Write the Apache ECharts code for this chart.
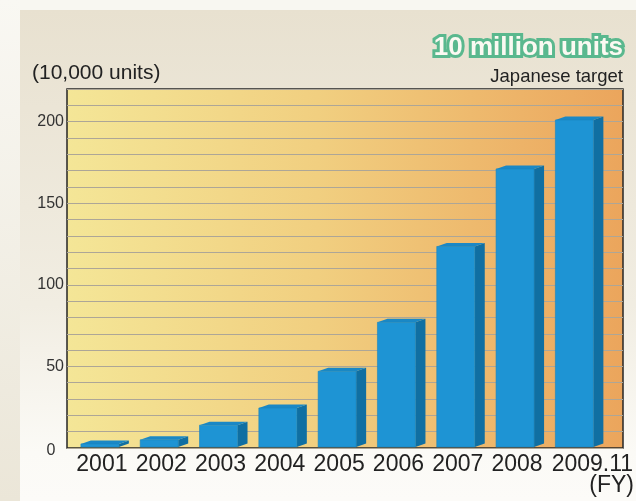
<!DOCTYPE html>
<html>
<head>
<meta charset="utf-8">
<script src="https://cdn.jsdelivr.net/npm/echarts@6/dist/echarts.min.js"></script>
<style>
  html, body { margin: 0; padding: 0; background: #f8f7f1; }
  #chart { width: 636px; height: 501px; }
</style>
</head>
<body>
<div id="chart"></div>
<script>
// fiscal years and units (10,000 units)
const categories = ['2001', '2002', '2003', '2004', '2005', '2006', '2007', '2008', '2009.11']
const unitValues = [2.5, 5, 14, 24.5, 47, 77, 123.5, 171, 201]
const yTickLabels = [0, 50, 100, 150, 200]

const font = 'Liberation Sans, Arial, sans-serif'
const chart = echarts.init(document.getElementById('chart'), null, { renderer: 'canvas' })

// 3D-ish bar: front face, top face and darker side face
function renderBar(params, api) {
  const top = api.coord([api.value(0), api.value(1)])
  const base = api.coord([api.value(0), 0])
  const w = 38
  const dx = 10
  const dy = 3.5
  const x0 = top[0] - 21
  const y0 = top[1]
  const y1 = base[1] - 1
  return {
    type: 'group',
    children: [{
      type: 'polygon',
      shape: { points: [[x0 + w, y0], [x0 + w + dx, y0 - dy], [x0 + w + dx, y1 - dy], [x0 + w, y1]] },
      style: { fill: '#106fa2' }
    }, {
      type: 'polygon',
      shape: { points: [[x0, y0], [x0 + dx, y0 - dy], [x0 + w + dx, y0 - dy], [x0 + w, y0]] },
      style: { fill: '#1a88c6' }
    }, {
      type: 'rect',
      shape: { x: x0, y: y0, width: w, height: y1 - y0 },
      style: { fill: '#1e94d4', stroke: '#1a84bd', lineWidth: 0.6 }
    }]
  }
}

chart.setOption({
  backgroundColor: '#f8f7f1',
  animation: false,
  graphic: [{
    type: 'rect',
    z: -10,
    shape: { x: 0, y: 0, width: 20, height: 501 },
    style: {
      fill: { type: 'linear', x: 0, y: 0, x2: 0, y2: 1, colorStops: [
        { offset: 0, color: '#f9f8f3' }, { offset: 1, color: '#ebe6d8' }] }
    }
  }, {
    type: 'rect',
    z: -10,
    shape: { x: 20, y: 10, width: 616, height: 491 },
    style: {
      fill: { type: 'linear', x: 0, y: 0, x2: 0, y2: 1, colorStops: [
        { offset: 0, color: '#e8e1d0' }, { offset: 0.6, color: '#f1ede2' }, { offset: 0.9, color: '#fbfaf6' }, { offset: 1, color: '#fcfbf8' }] }
    }
  }, {
    type: 'text',
    z: 100,
    x: 32,
    y: 73,
    style: { text: '(10,000 units)', font: '21px ' + font, fill: '#222', verticalAlign: 'middle' }
  }, {
    type: 'text',
    z: 100,
    x: 623,
    y: 77,
    style: { text: 'Japanese target', font: '18.5px ' + font, fill: '#222', align: 'right', verticalAlign: 'middle' }
  }, {
    type: 'text',
    z: 100,
    x: 623,
    y: 48,
    style: {
      text: '10 million units',
      font: 'bold 26px ' + font,
      fill: '#fbf9f2',
      stroke: '#5ab88e',
      lineWidth: 6,
      strokeFirst: true,
      align: 'right',
      verticalAlign: 'middle'
    }
  }, {
    type: 'text',
    z: 100,
    x: 51,
    y: 451,
    style: { text: String(yTickLabels[0]), font: '16px ' + font, fill: '#333', align: 'center', verticalAlign: 'middle' }
  }, {
    type: 'text',
    z: 100,
    x: 634,
    y: 486,
    style: { text: '(FY)', font: '23px ' + font, fill: '#222', align: 'right', verticalAlign: 'middle' }
  }],
  grid: [{
    left: 67,
    right: 13,
    top: 89,
    bottom: 53,
    show: true,
    backgroundColor: {
      type: 'linear', x: 0, y: 0, x2: 1, y2: 0,
      colorStops: [
        { offset: 0, color: '#f4e697' },
        { offset: 0.45, color: '#f1cf80' },
        { offset: 1, color: '#eba55c' }
      ]
    },
    borderColor: '#262626',
    borderWidth: 1.5
  }, {
    left: 72.25,
    right: 28.25,
    top: 89,
    bottom: 53
  }],
  xAxis: [{
    gridIndex: 0,
    type: 'value',
    show: false
  }, {
    gridIndex: 1,
    type: 'category',
    data: categories,
    axisLine: { show: false },
    axisTick: { show: false },
    axisLabel: {
      interval: 0,
      margin: 5,
      fontSize: 23,
      fontFamily: font,
      color: '#222',
      formatter: (value) => value.length > 4 ? '{s|' + value + '}' : value,
      rich: {
        s: { padding: [0, 0, 0, 32], fontSize: 23, fontFamily: font, color: '#222' }
      }
    }
  }],
  yAxis: [{
    gridIndex: 0,
    type: 'value',
    min: 0,
    max: 220,
    interval: 10,
    axisLine: { show: false },
    axisTick: { show: false },
    splitLine: { lineStyle: { color: '#ada697', width: 1 } },
    axisLabel: {
      margin: 3,
      fontSize: 16,
      fontFamily: font,
      color: '#333',
      padding: [0, 0, 10, 0],
      formatter: (value) => (value > 0 && yTickLabels.indexOf(value) >= 0) ? String(value) : ''
    }
  }, {
    gridIndex: 1,
    type: 'value',
    min: 0,
    max: 220,
    show: false
  }],
  series: [{
    type: 'custom',
    xAxisIndex: 1,
    yAxisIndex: 1,
    renderItem: renderBar,
    data: unitValues.map((v, i) => [i, v])
  }]
})
</script>
</body>
</html>
